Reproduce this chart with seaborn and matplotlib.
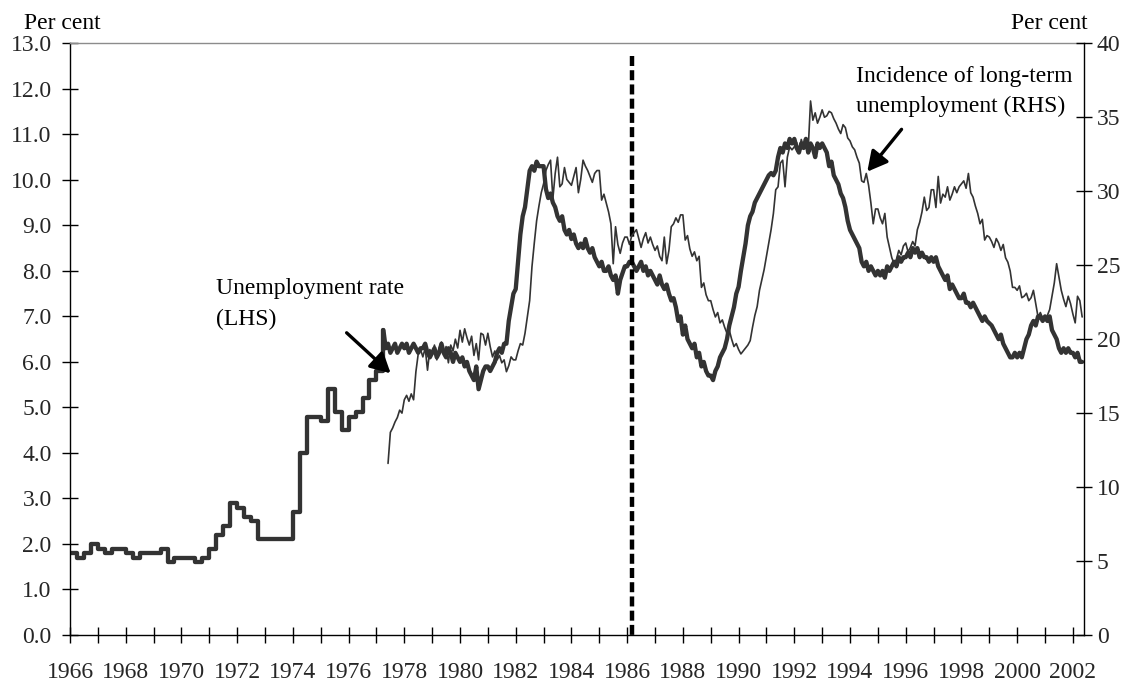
import numpy as np
import pandas as pd
import matplotlib
matplotlib.use("Agg")
import matplotlib.pyplot as plt
import seaborn as sns
from matplotlib.ticker import FixedLocator, FuncFormatter

# ---------------- data ----------------
# Unemployment rate (LHS), quarterly values 1966Q1 .. 1977Q1
unemp_q_start = 1966.0
unemp_quarterly = [
    1.8, 1.7, 1.8, 2.0,   # 1966
    1.9, 1.8, 1.9, 1.9,   # 1967
    1.8, 1.7, 1.8, 1.8,   # 1968
    1.8, 1.9, 1.6, 1.7,   # 1969
    1.7, 1.7, 1.6, 1.7,   # 1970
    1.9, 2.2, 2.4, 2.9,   # 1971
    2.8, 2.6, 2.5, 2.1,   # 1972
    2.1, 2.1, 2.1, 2.1,   # 1973
    2.7, 4.0, 4.8, 4.8,   # 1974
    4.7, 5.4, 4.9, 4.5,   # 1975
    4.8, 4.9, 5.2, 5.6,   # 1976
    5.8,                  # 1977Q1
]
# Unemployment rate (LHS), monthly values Apr 1977 .. May 2002
unemp_m_start = 1977.25
unemp_monthly = [
    6.7, 6.3, 6.4, 6.2, 6.3, 6.4, 6.2, 6.3, 6.4,                      # 1977
    6.3, 6.4, 6.2, 6.3, 6.4, 6.3, 6.2, 6.3, 6.3, 6.4, 6.2, 6.1,       # 1978
    6.2, 6.3, 6.1, 6.2, 6.4, 6.2, 6.1, 6.3, 6.2, 6.0, 6.2, 6.1,       # 1979
    6.0, 6.1, 5.9, 6.0, 5.8, 5.7, 5.6, 5.9, 5.4, 5.6, 5.8, 5.9,       # 1980
    5.9, 5.8, 5.9, 6.0, 6.2, 6.3, 6.2, 6.4, 6.4, 6.9, 7.2, 7.5,       # 1981
    7.6, 8.2, 8.8, 9.2, 9.4, 9.8, 10.2, 10.3, 10.2, 10.4, 10.3, 10.3, # 1982
    10.3, 9.8, 9.6, 9.7, 9.5, 9.4, 9.2, 9.1, 9.2, 8.9, 8.8, 8.9,      # 1983
    8.7, 8.8, 8.6, 8.5, 8.6, 8.5, 8.7, 8.5, 8.4, 8.5, 8.3, 8.2,       # 1984
    8.1, 8.2, 8.0, 8.0, 8.1, 7.9, 7.8, 7.9, 7.5, 7.8, 7.95, 8.1,      # 1985
    8.1, 8.2, 8.2, 8.1, 8.0, 8.1, 8.2, 8.0, 8.1, 7.9, 8.0, 7.9,       # 1986
    7.8, 7.7, 7.9, 7.7, 7.6, 7.7, 7.5, 7.35, 7.4, 7.2, 6.9, 7.0,      # 1987
    6.6, 6.8, 6.5, 6.4, 6.3, 6.4, 6.1, 6.2, 5.9, 6.0, 5.8, 5.7,       # 1988
    5.7, 5.6, 5.8, 5.9, 6.1, 6.2, 6.3, 6.5, 6.8, 7.0, 7.2, 7.5,       # 1989
    7.65, 8.0, 8.3, 8.6, 9.0, 9.2, 9.3, 9.5, 9.6, 9.7, 9.8, 9.9,      # 1990
    10.0, 10.1, 10.15, 10.1, 10.2, 10.5, 10.7, 10.6, 10.8, 10.7, 10.9, 10.8,  # 1991
    10.9, 10.7, 10.6, 10.8, 10.7, 10.9, 10.6, 10.8, 10.7, 10.5, 10.8, 10.7,   # 1992
    10.8, 10.7, 10.6, 10.3, 10.4, 10.1, 10.0, 9.9, 9.7, 9.6, 9.4, 9.1,        # 1993
    8.9, 8.8, 8.7, 8.6, 8.5, 8.2, 8.1, 8.2, 8.0, 8.1, 8.0, 7.9,       # 1994
    8.0, 7.9, 8.0, 7.85, 8.1, 8.0, 8.1, 8.2, 8.1, 8.3, 8.2, 8.3,      # 1995
    8.3, 8.4, 8.3, 8.5, 8.4, 8.5, 8.3, 8.4, 8.3, 8.3, 8.2, 8.3,       # 1996
    8.2, 8.3, 8.1, 8.0, 7.9, 7.8, 7.9, 7.6, 7.7, 7.6, 7.5, 7.4,       # 1997
    7.4, 7.5, 7.3, 7.3, 7.2, 7.3, 7.2, 7.1, 7.0, 6.9, 7.0, 6.9,       # 1998
    6.85, 6.8, 6.7, 6.6, 6.5, 6.6, 6.4, 6.3, 6.2, 6.1, 6.1, 6.2,      # 1999
    6.1, 6.2, 6.1, 6.3, 6.5, 6.6, 6.8, 6.9, 6.8, 7.0, 7.0, 6.9,       # 2000
    7.0, 6.9, 7.0, 6.7, 6.6, 6.5, 6.3, 6.2, 6.3, 6.2, 6.3, 6.2,       # 2001
    6.2, 6.1, 6.2, 6.0, 6.0,                                          # 2002
]
# Incidence of long-term unemployment (RHS), monthly Jun 1977 .. May 2002
ltu_start = 1977 + 5 / 12
ltu_monthly = [
    11.6, 13.7, 14.0, 14.4, 14.7, 15.2, 15.0,                          # 1977
    15.9, 16.2, 15.8, 16.3, 15.9, 17.8, 19.0, 19.3, 18.8, 19.4, 17.9, 19.3,   # 1978
    19.0, 19.6, 18.6, 19.4, 19.8, 18.9, 19.5, 18.4, 19.6, 19.2, 20.0, 19.4,   # 1979
    20.6, 19.8, 20.7, 20.1, 19.6, 20.2, 18.9, 19.7, 18.6, 20.4, 20.3, 19.6,   # 1980
    20.4, 19.5, 18.8, 19.2, 18.6, 18.9, 18.4, 18.6, 17.8, 18.2, 18.8, 18.6,   # 1981
    18.6, 19.2, 19.7, 19.6, 20.4, 21.5, 22.6, 24.9, 26.5, 28.0, 29.0, 29.9,   # 1982
    30.5, 31.4, 31.8, 32.1, 29.5, 31.2, 32.3, 30.3, 30.5, 31.6, 30.8, 30.6,   # 1983
    30.4, 31.0, 31.6, 29.9, 30.8, 32.1, 31.7, 31.4, 31.0, 30.6, 31.2, 31.4,   # 1984
    31.4, 29.4, 29.8, 29.2, 28.6, 27.8, 25.1, 27.6, 26.4, 25.8, 26.5, 26.9,   # 1985
    26.9, 26.4, 27.0, 27.2, 27.4, 26.8, 26.2, 26.8, 27.2, 26.5, 26.9, 26.4,   # 1986
    26.0, 26.3, 25.6, 25.3, 26.9, 25.1, 26.0, 27.6, 27.8, 28.2, 27.9, 28.4,   # 1987
    28.4, 26.7, 27.0, 26.1, 25.6, 25.9, 25.3, 25.6, 23.5, 23.8, 23.0, 22.6,   # 1988
    22.6, 22.0, 21.5, 21.8, 21.1, 21.3, 20.8, 20.4, 20.6, 20.0, 19.5, 19.7,   # 1989
    19.3, 19.0, 19.2, 19.4, 19.6, 19.9, 20.8, 21.6, 22.2, 23.3, 24.0, 24.7,   # 1990
    25.6, 26.5, 27.4, 28.5, 30.1, 30.3, 31.9, 32.1, 30.3, 32.3, 33.0, 32.8,   # 1991
    33.0, 33.3, 32.6, 33.5, 33.0, 33.4, 32.9, 36.1, 34.8, 35.3, 34.6, 35.0,   # 1992
    35.5, 35.0, 35.1, 35.4, 35.3, 34.9, 34.6, 34.2, 33.9, 34.5, 34.3, 33.6,   # 1993
    33.4, 33.0, 32.8, 32.3, 31.9, 30.7, 30.6, 31.2, 30.4, 29.2, 27.8, 28.8,   # 1994
    28.8, 28.2, 27.8, 28.5, 26.9, 26.2, 25.5, 25.1, 25.4, 26.0, 25.7, 26.3,   # 1995
    26.5, 25.9, 26.2, 26.6, 26.3, 27.4, 27.9, 28.6, 29.6, 28.7, 28.9, 30.1,   # 1996
    30.1, 28.9, 31.0, 29.2, 29.8, 29.6, 30.3, 29.4, 29.8, 30.3, 29.9, 30.3,   # 1997
    30.5, 30.7, 30.2, 31.2, 29.9, 29.6, 29.0, 28.5, 27.8, 28.1, 26.7, 27.0,   # 1998
    26.9, 26.6, 26.2, 26.8, 26.5, 26.0, 26.4, 25.5, 25.2, 24.6, 23.5, 23.5,   # 1999
    23.3, 23.6, 22.8, 22.9, 23.1, 22.6, 22.8, 23.3, 22.4, 21.5, 21.8, 21.4,   # 2000
    21.3, 21.6, 22.0, 22.9, 23.8, 25.1, 24.2, 23.3, 22.7, 22.2, 22.9, 22.4,   # 2001
    21.7, 21.1, 22.9, 22.6, 21.5,                                             # 2002
]
year_labels = list(range(1966, 2003, 2))
minor_years = list(range(1967, 2002, 2))
left_ticks = [float(v) for v in range(0, 14)]
right_ticks = list(range(0, 41, 5))
break_year = 1986.16

# ---------------- frames ----------------
q_x = unemp_q_start + np.arange(len(unemp_quarterly)) * 0.25
df_q = pd.DataFrame({"year": np.append(q_x, unemp_m_start),
                     "rate": np.append(unemp_quarterly, unemp_monthly[0])})
df_m = pd.DataFrame({"year": unemp_m_start + np.arange(len(unemp_monthly)) / 12,
                     "rate": unemp_monthly})
df_l = pd.DataFrame({"year": ltu_start + np.arange(len(ltu_monthly)) / 12,
                     "ltu": ltu_monthly})

# ---------------- style ----------------
sns.set_style("white")
plt.rcParams["font.family"] = ["Liberation Serif", "DejaVu Serif"]
FS = 17
LINE = "#333333"

W, H = 1138, 687
fig = plt.figure(figsize=(W / 100, H / 100), dpi=100)
ax = fig.add_axes([70 / W, (H - 635) / H, (1084.3 - 70) / W, (635 - 43.3) / H])
ax2 = ax.twinx()

sns.lineplot(data=df_q, x="year", y="rate", ax=ax, color=LINE, lw=3.1,
             drawstyle="steps-post", estimator=None, sort=False)
sns.lineplot(data=df_m, x="year", y="rate", ax=ax, color=LINE, lw=3.1,
             estimator=None, sort=False, solid_joinstyle="round")
sns.lineplot(data=df_l, x="year", y="ltu", ax=ax2, color=LINE, lw=1.2,
             estimator=None, sort=False)

# dashed break line
ax.plot([break_year, break_year], [12.72, 0], color="black", lw=3.2,
        linestyle=(0, (2.25, 0.95)), dash_capstyle="butt")

ax.set_xlim(1966, 2002.41)
ax.set_ylim(0, 13)
ax2.set_ylim(0, 40)

ax.xaxis.set_major_locator(FixedLocator(year_labels))
ax.xaxis.set_minor_locator(FixedLocator(minor_years))
ax.xaxis.set_major_formatter(FuncFormatter(lambda v, p: f"{int(round(v))}"))
ax.yaxis.set_major_locator(FixedLocator(left_ticks))
ax.yaxis.set_major_formatter(FuncFormatter(lambda v, p: f"{v:.1f}"))
ax2.yaxis.set_major_locator(FixedLocator(right_ticks))
ax2.yaxis.set_major_formatter(FuncFormatter(lambda v, p: f"{int(v)}"))

ax.tick_params(axis="x", which="both", direction="inout", length=11.5, width=1,
               color="black", pad=14, labelsize=FS, bottom=True)
ax.tick_params(axis="y", which="major", direction="inout", length=11.5, width=1,
               color="black", pad=7.4, labelsize=FS, left=True)
ax2.tick_params(axis="y", which="major", direction="inout", length=11.5, width=1,
                color="black", pad=3.2, labelsize=FS, right=True)

for a in (ax, ax2):
    a.set_xlabel("")
    a.set_ylabel("")
    a.grid(False)

ax.spines["top"].set_color("#8c8c8c")
ax.spines["top"].set_linewidth(1.0)
for s in ("left", "bottom"):
    ax.spines[s].set_color("black")
    ax.spines[s].set_linewidth(1.0)
ax.spines["right"].set_visible(False)
for s in ("top", "left", "bottom"):
    ax2.spines[s].set_visible(False)
ax2.spines["right"].set_color("black")
ax2.spines["right"].set_linewidth(1.0)
ax.set_facecolor("white")
ax2.patch.set_visible(False)


def ftext(x, y, s, **kw):
    fig.text(x / W, 1 - y / H, s, fontsize=FS, color="black", va="baseline", **kw)


ftext(24, 29.3, "Per cent", ha="left")
ftext(1088, 29.3, "Per cent", ha="right")
ftext(216, 294.3, "Unemployment rate", ha="left")
ftext(216, 325, "(LHS)", ha="left")
ftext(856, 81.7, "Incidence of long-term", ha="left")
ftext(856, 111.7, "unemployment (RHS)", ha="left")

arrow = dict(arrowstyle="-|>,head_length=0.6,head_width=0.32", color="black",
             lw=2.4, mutation_scale=20, shrinkA=0, shrinkB=0)
ax.annotate("", xy=(1977.51, 5.75), xytext=(1975.93, 6.64), arrowprops=arrow)
ax.annotate("", xy=(1994.62, 10.18), xytext=(1995.85, 11.11), arrowprops=arrow)

fig.savefig("out.png", dpi=100, facecolor="white")
